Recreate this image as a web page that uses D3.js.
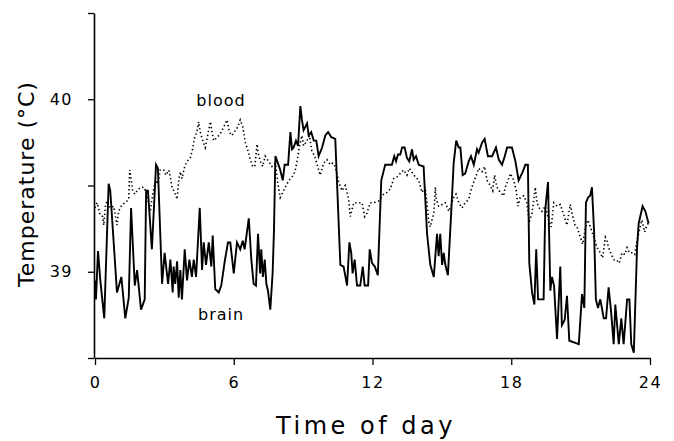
<!DOCTYPE html>
<html>
<head>
<meta charset="utf-8">
<script src="https://cdn.jsdelivr.net/npm/d3@7"></script>
<style>
  html, body { margin: 0; padding: 0; background: #fff; }
  svg { display: block; font-family: "DejaVu Sans", "Liberation Sans", Arial, sans-serif; }
</style>
</head>
<body>
<svg id="chart" width="674" height="441"></svg>
<script>
// ---- data (hour of day, temperature °C) ----
const brainHours = [0,0.04,0.13,0.23,0.40,0.59,0.66,0.95,1.14,1.31,1.46,1.56,1.72,1.82,1.99,2.15,2.21,2.29,2.46,2.64,2.72,2.90,3.01,3.16,3.26,3.36,3.40,3.47,3.55,3.62,3.69,3.76,3.88,3.98,4.08,4.19,4.27,4.37,4.53,4.63,4.70,4.80,4.92,5.03,5.09,5.20,5.35,5.46,5.61,5.75,5.85,6.00,6.14,6.28,6.39,6.47,6.65,6.76,6.86,6.96,7.05,7.14,7.19,7.26,7.34,7.41,7.48,7.58,7.68,7.74,7.80,7.91,8.01,8.12,8.20,8.35,8.45,8.52,8.59,8.69,8.78,8.88,8.95,9.02,9.17,9.24,9.35,9.46,9.57,9.67,9.82,9.96,10.08,10.22,10.39,10.61,10.75,10.90,11.00,11.08,11.14,11.23,11.33,11.47,11.58,11.66,11.81,11.88,11.98,12.10,12.23,12.38,12.55,12.84,12.94,13.02,13.10,13.20,13.28,13.39,13.49,13.59,13.71,13.78,13.88,14.00,14.21,14.36,14.50,14.65,14.79,14.86,14.93,15.01,15.08,15.15,15.26,15.41,15.51,15.62,15.73,15.80,15.90,16.01,16.16,16.26,16.38,16.52,16.59,16.74,16.85,16.99,17.17,17.34,17.46,17.60,17.72,17.82,18.03,18.18,18.32,18.50,18.61,18.72,18.78,18.90,19.00,19.08,19.16,19.40,19.47,19.59,19.69,19.76,19.85,19.98,20.12,20.19,20.31,20.41,20.51,20.71,20.92,21.06,21.16,21.23,21.32,21.41,21.49,21.58,21.66,21.75,21.85,22.00,22.10,22.21,22.31,22.43,22.50,22.65,22.76,22.86,23.01,23.11,23.19,23.30,23.44,23.51,23.68,23.80,23.94];
const brainTemps = [38.95,38.84,39.12,38.95,38.73,39.51,39.47,38.88,38.97,38.73,38.85,39.37,38.92,39.01,38.78,38.84,39.47,39.47,39.13,39.62,39.60,38.93,39.11,38.93,39.07,38.88,39.03,38.93,39.06,38.85,39.01,38.84,39.13,38.95,39.07,38.97,39.07,38.97,39.37,39.01,39.17,39.04,39.17,39.03,39.21,38.90,38.88,38.92,39.06,39.17,39.17,38.99,39.17,39.13,39.18,39.13,39.31,39.07,38.93,38.92,39.22,38.99,39.13,38.97,39.07,38.93,38.89,38.78,38.99,39.24,39.67,39.63,39.59,39.53,39.62,39.62,39.81,39.71,39.72,39.76,39.73,39.96,39.88,39.82,39.86,39.79,39.81,39.76,39.76,39.67,39.72,39.79,39.81,39.78,39.77,39.04,39.03,38.92,39.17,39.11,38.99,39.07,38.92,38.92,39.03,38.92,38.92,39.13,39.05,39.03,38.98,39.53,39.62,39.62,39.67,39.64,39.68,39.68,39.72,39.72,39.66,39.64,39.71,39.65,39.67,39.62,39.61,39.22,39.04,38.97,39.22,39.09,39.22,39.04,39.11,39.04,38.98,39.36,39.63,39.76,39.72,39.72,39.56,39.57,39.64,39.67,39.62,39.71,39.69,39.75,39.77,39.67,39.67,39.72,39.65,39.62,39.67,39.72,39.72,39.64,39.53,39.58,39.62,39.62,39.05,38.88,38.81,39.13,38.84,38.84,39.36,39.52,38.89,38.97,38.92,38.61,39.03,38.69,38.72,38.86,38.60,38.59,38.58,38.87,38.79,39.40,39.43,39.44,39.49,39.24,38.84,38.79,38.84,38.73,38.73,38.91,38.78,38.58,38.81,38.58,38.73,38.58,38.84,38.84,38.58,38.53,39.14,39.28,39.38,39.35,39.28];

const bloodHours = [0,0.09,0.22,0.33,0.38,0.45,0.52,0.66,0.81,0.91,0.95,1.02,1.17,1.31,1.46,1.50,1.57,1.63,1.72,1.82,1.96,2.11,2.25,2.32,2.39,2.46,2.61,2.72,2.82,2.97,3.07,3.19,3.26,3.33,3.45,3.55,3.62,3.69,3.76,3.88,3.98,4.12,4.22,4.31,4.41,4.48,4.55,4.66,4.77,4.87,4.99,5.06,5.13,5.28,5.42,5.57,5.71,5.81,5.92,6.07,6.18,6.28,6.39,6.50,6.62,6.72,6.82,6.91,7.01,7.05,7.15,7.25,7.36,7.51,7.65,7.80,7.91,8.01,8.16,8.30,8.45,8.59,8.66,8.78,8.83,8.95,9.02,9.17,9.27,9.38,9.50,9.67,9.74,9.89,10.03,10.18,10.28,10.39,10.54,10.68,10.82,10.97,11.04,11.19,11.33,11.55,11.66,11.76,11.90,12.05,12.27,12.48,12.63,12.77,12.92,13.06,13.20,13.35,13.49,13.59,13.74,13.85,14.00,14.14,14.28,14.43,14.50,14.65,14.72,14.76,14.86,15.01,15.15,15.30,15.41,15.51,15.61,15.73,15.87,16.01,16.16,16.27,16.38,16.52,16.59,16.74,16.85,16.95,17.09,17.20,17.28,17.38,17.53,17.67,17.74,17.86,17.96,18.11,18.21,18.29,18.39,18.54,18.68,18.78,18.90,19.04,19.11,19.21,19.33,19.47,19.62,19.73,19.84,19.98,20.12,20.27,20.41,20.55,20.66,20.76,20.84,20.99,21.09,21.20,21.32,21.42,21.52,21.62,21.71,21.85,21.95,22.07,22.14,22.21,22.33,22.43,22.54,22.67,22.79,22.91,23.01,23.11,23.23,23.34,23.44,23.54,23.65,23.77,23.87,23.97];
const bloodTemps = [39.37,39.40,39.33,39.32,39.27,39.38,39.41,39.37,39.38,39.30,39.27,39.35,39.39,39.40,39.42,39.59,39.53,39.47,39.45,39.47,39.49,39.49,39.45,39.39,39.35,39.42,39.53,39.51,39.59,39.59,39.56,39.59,39.55,39.49,39.46,39.42,39.53,39.58,39.54,39.61,39.64,39.66,39.71,39.78,39.81,39.87,39.81,39.76,39.72,39.79,39.87,39.81,39.76,39.78,39.80,39.84,39.88,39.81,39.79,39.82,39.84,39.88,39.84,39.75,39.70,39.65,39.61,39.61,39.74,39.69,39.64,39.61,39.67,39.64,39.61,39.63,39.51,39.43,39.47,39.51,39.54,39.56,39.59,39.67,39.72,39.79,39.73,39.76,39.79,39.70,39.67,39.59,39.56,39.63,39.65,39.62,39.63,39.61,39.52,39.47,39.50,39.42,39.32,39.40,39.40,39.40,39.32,39.34,39.40,39.40,39.41,39.45,39.46,39.48,39.54,39.55,39.57,39.59,39.56,39.60,39.57,39.55,39.53,39.46,39.49,39.29,39.26,39.34,39.49,39.42,39.38,39.39,39.40,39.35,39.39,39.43,39.45,39.40,39.37,39.40,39.42,39.48,39.52,39.57,39.60,39.58,39.61,39.53,39.50,39.47,39.56,39.49,39.46,39.44,39.49,39.53,39.57,39.53,39.47,39.38,39.43,39.44,39.40,39.29,39.34,39.49,39.40,39.37,39.35,39.38,39.30,39.26,39.40,39.38,39.39,39.33,39.27,39.39,39.32,39.27,39.26,39.20,39.16,39.25,39.30,39.26,39.22,39.18,39.14,39.11,39.08,39.20,39.18,39.14,39.10,39.07,39.07,39.05,39.11,39.10,39.14,39.11,39.11,39.10,39.18,39.24,39.30,39.23,39.27,39.29];

const xTicks = [0, 6, 12, 18, 24];
const yTicks = [38.5, 39, 39.5, 40, 40.5];
const yTickLabels = ["", "39", "", "40", ""];
const seriesLabels = [
  { name: "blood", hour: 5.45, temp: 39.96 },
  { name: "brain", hour: 5.45, temp: 38.72 }
];

// ---- drawing ----
const svg = d3.select("#chart");
const x = d3.scaleLinear().domain([0, 24]).range([95, 650]);
const y = d3.scaleLinear().domain([38.5, 40.5]).range([358, 13]);

const brain = brainHours.map((h, i) => [h, brainTemps[i]]);
const blood = bloodHours.map((h, i) => [h, bloodTemps[i]]);

const line = d3.line().x(d => x(d[0])).y(d => y(d[1]));

svg.append("path")
  .datum(blood)
  .attr("d", line)
  .attr("fill", "none")
  .attr("stroke", "#000")
  .attr("stroke-width", 1.6)
  .attr("stroke-dasharray", "1.4,2.6");

svg.append("path")
  .datum(brain)
  .attr("d", line)
  .attr("fill", "none")
  .attr("stroke", "#000")
  .attr("stroke-width", 1.9)
  .attr("stroke-linejoin", "miter");

// axes
const yAxis = d3.axisLeft(y)
  .tickValues(yTicks)
  .tickFormat((d, i) => yTickLabels[i])
  .tickSize(6)
  .tickSizeOuter(0)
  .tickPadding(15);
const gy = svg.append("g").attr("transform", "translate(94,0)").call(yAxis);

const xAxis = d3.axisBottom(x)
  .tickValues(xTicks)
  .tickFormat(d3.format("d"))
  .tickSize(7)
  .tickSizeOuter(0)
  .tickPadding(12);
const gx = svg.append("g").attr("transform", "translate(0,358)").call(xAxis);

[gx, gy].forEach(g => {
  g.select(".domain").attr("stroke", "#000").attr("stroke-width", 1.6);
  g.selectAll(".tick line").attr("stroke", "#000").attr("stroke-width", 1.3);
  g.selectAll(".tick text")
    .attr("fill", "#000")
    .style("font-family", "'DejaVu Sans', 'Liberation Sans', Arial, sans-serif")
    .style("font-size", "16px")
    .style("letter-spacing", "1.5px");
});

// axis titles
svg.append("text")
  .attr("x", 366).attr("y", 434)
  .attr("text-anchor", "middle")
  .style("font-size", "24px")
  .style("letter-spacing", "3.5px")
  .text("Time of day");

svg.append("text")
  .attr("transform", "translate(34,184) rotate(-90)")
  .attr("text-anchor", "middle")
  .style("font-size", "22px")
  .style("letter-spacing", "1px")
  .text("Temperature (°C)");

// series labels
svg.selectAll(".slabel")
  .data(seriesLabels)
  .enter().append("text")
  .attr("class", "slabel")
  .attr("x", d => x(d.hour))
  .attr("y", d => y(d.temp))
  .attr("text-anchor", "middle")
  .style("font-size", "16px")
  .style("letter-spacing", "1px")
  .text(d => d.name);
</script>
</body>
</html>
